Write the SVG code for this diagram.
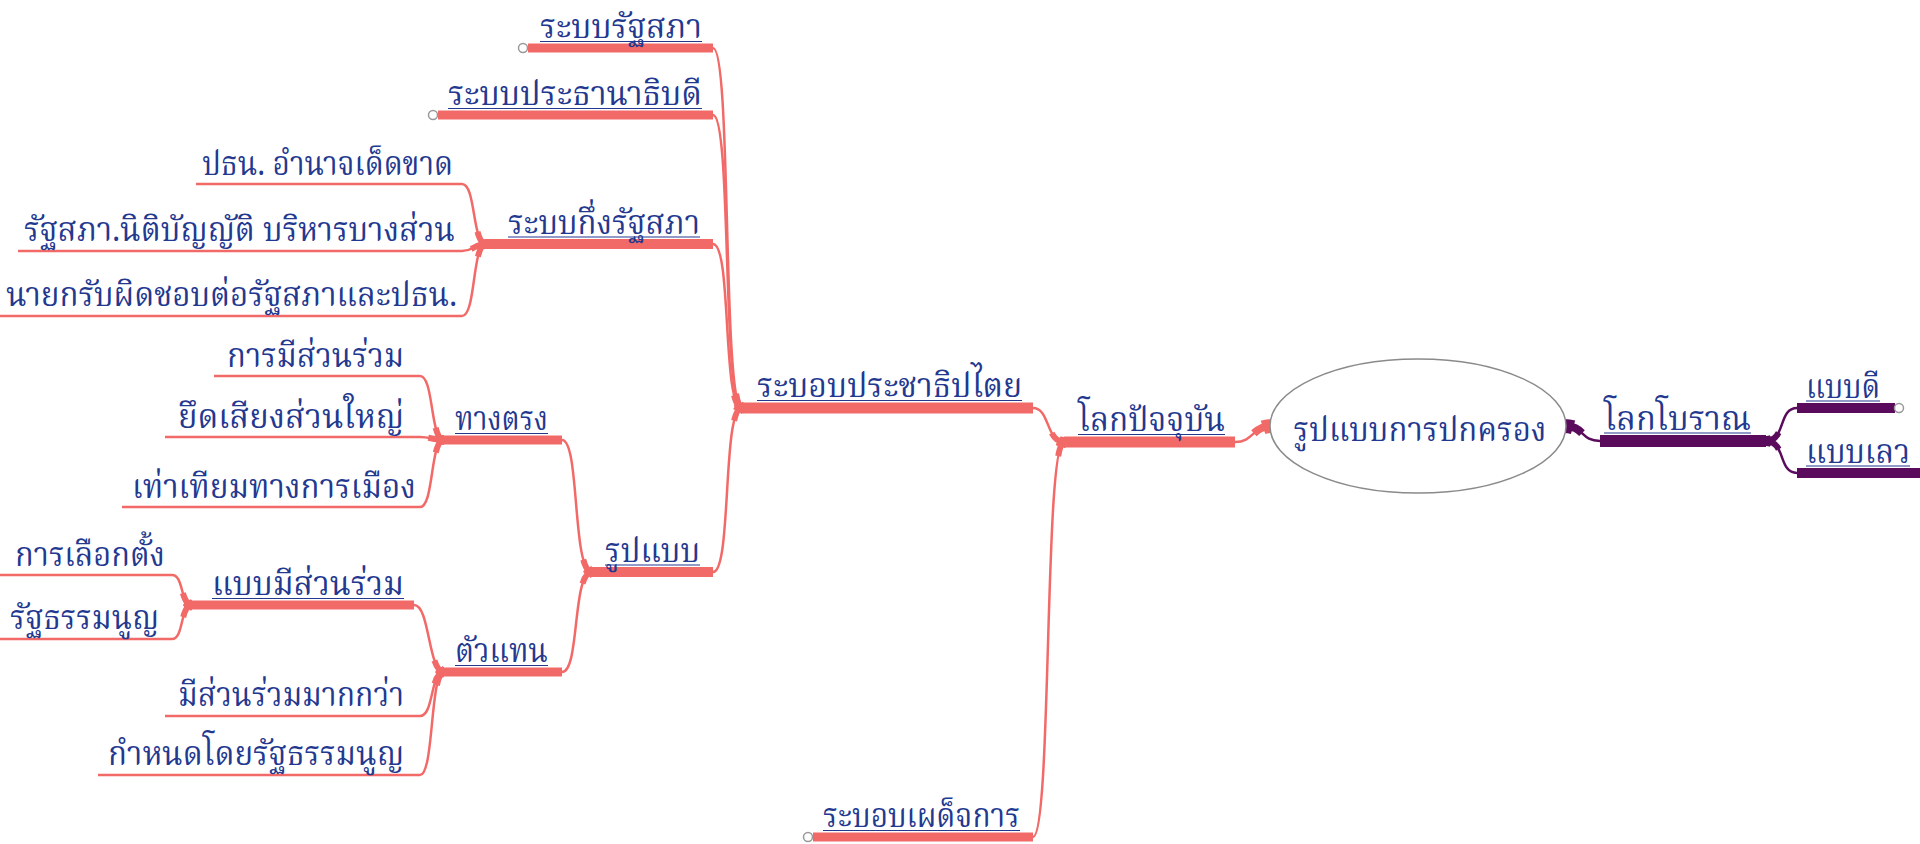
<svg xmlns="http://www.w3.org/2000/svg" width="1920" height="844" viewBox="0 0 1920 844">
<style>
text{font-family:"Noto Serif Thai","Noto Sans Thai","Noto Sans Thai Looped","DejaVu Sans",sans-serif;font-size:33px;fill:#23388f}
.l{text-anchor:end}
.ul{stroke:#23388f;stroke-width:1.2}
.bar{fill:#f26a68}
.pbar{fill:#5a0b5c}
.c1{fill:none;stroke:#f26a68;stroke-width:2.5}
.c2{fill:none;stroke:#f26a68;stroke-width:6;stroke-dasharray:16 3000}
.c3{fill:none;stroke:#f26a68;stroke-width:10;stroke-dasharray:6 3000}
.p1{fill:none;stroke:#5a0b5c;stroke-width:2.5}
.p2{fill:none;stroke:#5a0b5c;stroke-width:6;stroke-dasharray:16 3000}
.p3{fill:none;stroke:#5a0b5c;stroke-width:10;stroke-dasharray:6 3000}
.r2{stroke-width:8;stroke-dasharray:20 3000}
.r3{stroke-width:14;stroke-dasharray:9 3000}
.knob{fill:#fff;stroke:#999;stroke-width:1.5}
</style>
<defs>
  <path id="a1" d="M742,408 C722,408 732,48 713,48"/>
  <path id="a2" d="M742,408 C722,408 732,115 713,115"/>
  <path id="a3" d="M742,408 C722,408 732,244 713,244"/>
  <path id="a4" d="M742,408 C722,408 732,572 713,572"/>
  <path id="b1" d="M486,244 C472,244 476,184 462,184 H196"/>
  <path id="b2" d="M486,244 C474,244 474,251 462,251 H18"/>
  <path id="b3" d="M486,244 C472,244 476,316 462,316 H0"/>
  <path id="cc1" d="M592,572 C572,572 580,440 562,440"/>
  <path id="cc2" d="M592,572 C572,572 580,672 562,672"/>
  <path id="d1" d="M444,440 C430,440 434,376 420,376 H214"/>
  <path id="d2" d="M444,440 C434,440 430,437 420,437 H165"/>
  <path id="d3" d="M444,440 C430,440 434,507 420,507 H122"/>
  <path id="e1" d="M444,672 C428,672 430,605 414,605"/>
  <path id="e2" d="M444,672 C430,672 434,716 420,716 H165"/>
  <path id="e3" d="M444,672 C430,672 434,775 420,775 H98"/>
  <path id="f1" d="M192,605 C180,605 184,575 172,575 H0"/>
  <path id="f2" d="M192,605 C180,605 184,639 172,639 H0"/>
  <path id="g1" d="M1064,442 C1046,442 1050,408 1033,408"/>
  <path id="g2" d="M1064,442 C1044,442 1052,837 1033,837"/>
  <path id="h1" d="M1272,426 C1252,426 1254,442 1235,442"/>
  <path id="h2" d="M1564,426 C1585,426 1580,441 1600,441"/>
  <path id="i1" d="M1766,441 C1786,441 1778,408 1797,408"/>
  <path id="i2" d="M1766,441 C1786,441 1778,473 1797,473"/>
</defs>
<g id="connectors">
  <g id="to-prachathippatai">
    <use href="#a1" class="c1"/><use href="#a2" class="c1"/><use href="#a3" class="c1"/><use href="#a4" class="c1"/>
    <use href="#a1" class="c2"/><use href="#a2" class="c2"/><use href="#a3" class="c2"/><use href="#a4" class="c2"/>
    <use href="#a1" class="c3"/><use href="#a4" class="c3"/>
  </g>
  <g id="to-kueng">
    <use href="#b1" class="c1"/><use href="#b2" class="c1"/><use href="#b3" class="c1"/>
    <use href="#b1" class="c2"/><use href="#b2" class="c2"/><use href="#b3" class="c2"/>
    <use href="#b2" class="c3"/>
  </g>
  <g id="to-rupbaep">
    <use href="#cc1" class="c1"/><use href="#cc2" class="c1"/>
    <use href="#cc1" class="c2"/><use href="#cc2" class="c2"/>
    <use href="#cc1" class="c3"/><use href="#cc2" class="c3"/>
  </g>
  <g id="to-thangtrong">
    <use href="#d1" class="c1"/><use href="#d2" class="c1"/><use href="#d3" class="c1"/>
    <use href="#d1" class="c2"/><use href="#d2" class="c2"/><use href="#d3" class="c2"/>
    <use href="#d2" class="c3"/>
  </g>
  <g id="to-tuathaen">
    <use href="#e1" class="c1"/><use href="#e2" class="c1"/><use href="#e3" class="c1"/>
    <use href="#e1" class="c2"/><use href="#e2" class="c2"/><use href="#e3" class="c2"/>
    <use href="#e1" class="c3"/><use href="#e2" class="c3"/>
  </g>
  <g id="to-baepmi">
    <use href="#f1" class="c1"/><use href="#f2" class="c1"/>
    <use href="#f1" class="c2"/><use href="#f2" class="c2"/>
    <use href="#f1" class="c3"/><use href="#f2" class="c3"/>
  </g>
  <g id="to-lokpatjuban">
    <use href="#g1" class="c1"/><use href="#g2" class="c1"/>
    <use href="#g1" class="c2"/><use href="#g2" class="c2"/>
    <use href="#g1" class="c3"/><use href="#g2" class="c3"/>
  </g>
  <g id="root-left">
    <use href="#h1" class="c1"/>
    <use href="#h1" class="c2 r2"/>
    <use href="#h1" class="c3 r3"/>
  </g>
  <g id="root-right">
    <use href="#h2" class="p1"/>
    <use href="#h2" class="p2 r2"/>
    <use href="#h2" class="p3 r3"/>
  </g>
  <g id="to-lokboran">
    <use href="#i1" class="p1"/><use href="#i2" class="p1"/>
    <use href="#i1" class="p2"/><use href="#i2" class="p2"/>
    <use href="#i1" class="p3"/><use href="#i2" class="p3"/>
  </g>
</g>

<g id="root">
  <ellipse cx="1418" cy="426" rx="148" ry="67" fill="#fff" stroke="#8a8a8a" stroke-width="1.5"/>
  <text x="1420" y="441" text-anchor="middle" textLength="253" lengthAdjust="spacingAndGlyphs">รูปแบบการปกครอง</text>
</g>

<g id="n-lokpatjuban">
  <rect class="bar" x="1064" y="436.5" width="171" height="11"/>
  <line class="ul" x1="1078" y1="434.5" x2="1225" y2="434.5"/>
  <text x="1078" y="431" textLength="147" lengthAdjust="spacingAndGlyphs">โลกปัจจุบัน</text>
</g>
<g id="n-prachathippatai">
  <rect class="bar" x="742" y="402.5" width="291" height="11"/>
  <line class="ul" x1="757" y1="400.5" x2="1022" y2="400.5"/>
  <text x="757" y="397" textLength="265" lengthAdjust="spacingAndGlyphs">ระบอบประชาธิปไตย</text>
</g>
<g id="n-phadetkan">
  <rect class="bar" x="813" y="832.5" width="220" height="9"/>
  <circle class="knob" cx="808" cy="837" r="4.5"/>
  <line class="ul" x1="823" y1="830.5" x2="1020" y2="830.5"/>
  <text x="823" y="827" textLength="197" lengthAdjust="spacingAndGlyphs">ระบอบเผด็จการ</text>
</g>
<g id="n-ratthasapha">
  <rect class="bar" x="528" y="43.5" width="185" height="9"/>
  <circle class="knob" cx="523" cy="48" r="4.5"/>
  <line class="ul" x1="540" y1="41.5" x2="702" y2="41.5"/>
  <text x="540" y="38" textLength="162" lengthAdjust="spacingAndGlyphs">ระบบรัฐสภา</text>
</g>
<g id="n-prathanathibodi">
  <rect class="bar" x="438" y="110.5" width="275" height="9"/>
  <circle class="knob" cx="433" cy="115" r="4.5"/>
  <line class="ul" x1="448" y1="108.5" x2="702" y2="108.5"/>
  <text x="448" y="105" textLength="254" lengthAdjust="spacingAndGlyphs">ระบบประธานาธิบดี</text>
</g>
<g id="n-kueng">
  <rect class="bar" x="486" y="239" width="227" height="10"/>
  <line class="ul" x1="508" y1="237" x2="700" y2="237"/>
  <text x="508" y="234" textLength="192" lengthAdjust="spacingAndGlyphs">ระบบกึ่งรัฐสภา</text>
</g>
<g id="n-k1">
  <text x="453" y="175" class="l" textLength="251" lengthAdjust="spacingAndGlyphs">ปธน. อำนาจเด็ดขาด</text>
</g>
<g id="n-k2">
  <text x="455" y="241" class="l" textLength="431" lengthAdjust="spacingAndGlyphs">รัฐสภา.นิติบัญญัติ บริหารบางส่วน</text>
</g>
<g id="n-k3">
  <text x="457" y="306" class="l" textLength="451" lengthAdjust="spacingAndGlyphs">นายกรับผิดชอบต่อรัฐสภาและปธน.</text>
</g>
<g id="n-rupbaep">
  <rect class="bar" x="592" y="567" width="121" height="10"/>
  <line class="ul" x1="605" y1="565" x2="700" y2="565"/>
  <text x="605" y="562" textLength="95" lengthAdjust="spacingAndGlyphs">รูปแบบ</text>
</g>
<g id="n-thangtrong">
  <rect class="bar" x="444" y="435.5" width="118" height="9"/>
  <line class="ul" x1="455" y1="433.5" x2="548" y2="433.5"/>
  <text x="455" y="430" textLength="93" lengthAdjust="spacingAndGlyphs">ทางตรง</text>
</g>
<g id="n-t1">
  <text x="404" y="367" class="l" textLength="177" lengthAdjust="spacingAndGlyphs">การมีส่วนร่วม</text>
</g>
<g id="n-t2">
  <text x="404" y="428" class="l" textLength="226" lengthAdjust="spacingAndGlyphs">ยึดเสียงส่วนใหญ่</text>
</g>
<g id="n-t3">
  <text x="416" y="498" class="l" textLength="284" lengthAdjust="spacingAndGlyphs">เท่าเทียมทางการเมือง</text>
</g>
<g id="n-tuathaen">
  <rect class="bar" x="444" y="667.5" width="118" height="9"/>
  <line class="ul" x1="455" y1="665.5" x2="548" y2="665.5"/>
  <text x="455" y="662" textLength="93" lengthAdjust="spacingAndGlyphs">ตัวแทน</text>
</g>
<g id="n-baepmi">
  <rect class="bar" x="192" y="600.5" width="222" height="9"/>
  <line class="ul" x1="212" y1="598.5" x2="404" y2="598.5"/>
  <text x="212" y="595" textLength="192" lengthAdjust="spacingAndGlyphs">แบบมีส่วนร่วม</text>
</g>
<g id="n-b1">
  <text x="15" y="566" textLength="150" lengthAdjust="spacingAndGlyphs">การเลือกตั้ง</text>
</g>
<g id="n-b2">
  <text x="10" y="629" textLength="149" lengthAdjust="spacingAndGlyphs">รัฐธรรมนูญ</text>
</g>
<g id="n-r2">
  <text x="404" y="706" class="l" textLength="226" lengthAdjust="spacingAndGlyphs">มีส่วนร่วมมากกว่า</text>
</g>
<g id="n-r3">
  <text x="404" y="765" class="l" textLength="296" lengthAdjust="spacingAndGlyphs">กำหนดโดยรัฐธรรมนูญ</text>
</g>
<g id="n-lokboran">
  <rect class="pbar" x="1600" y="435" width="166" height="12"/>
  <line class="ul" x1="1604" y1="433" x2="1751" y2="433"/>
  <text x="1604" y="430" textLength="147" lengthAdjust="spacingAndGlyphs">โลกโบราณ</text>
</g>
<g id="n-baepdi">
  <rect class="pbar" x="1797" y="403" width="98" height="10"/>
  <circle class="knob" cx="1899" cy="408" r="4.5"/>
  <line class="ul" x1="1806" y1="401" x2="1880" y2="401"/>
  <text x="1806" y="398" textLength="74" lengthAdjust="spacingAndGlyphs">แบบดี</text>
</g>
<g id="n-baeplew">
  <rect class="pbar" x="1797" y="468" width="123" height="10"/>
  <line class="ul" x1="1806" y1="466" x2="1910" y2="466"/>
  <text x="1806" y="463" textLength="104" lengthAdjust="spacingAndGlyphs">แบบเลว</text>
</g>
</svg>
